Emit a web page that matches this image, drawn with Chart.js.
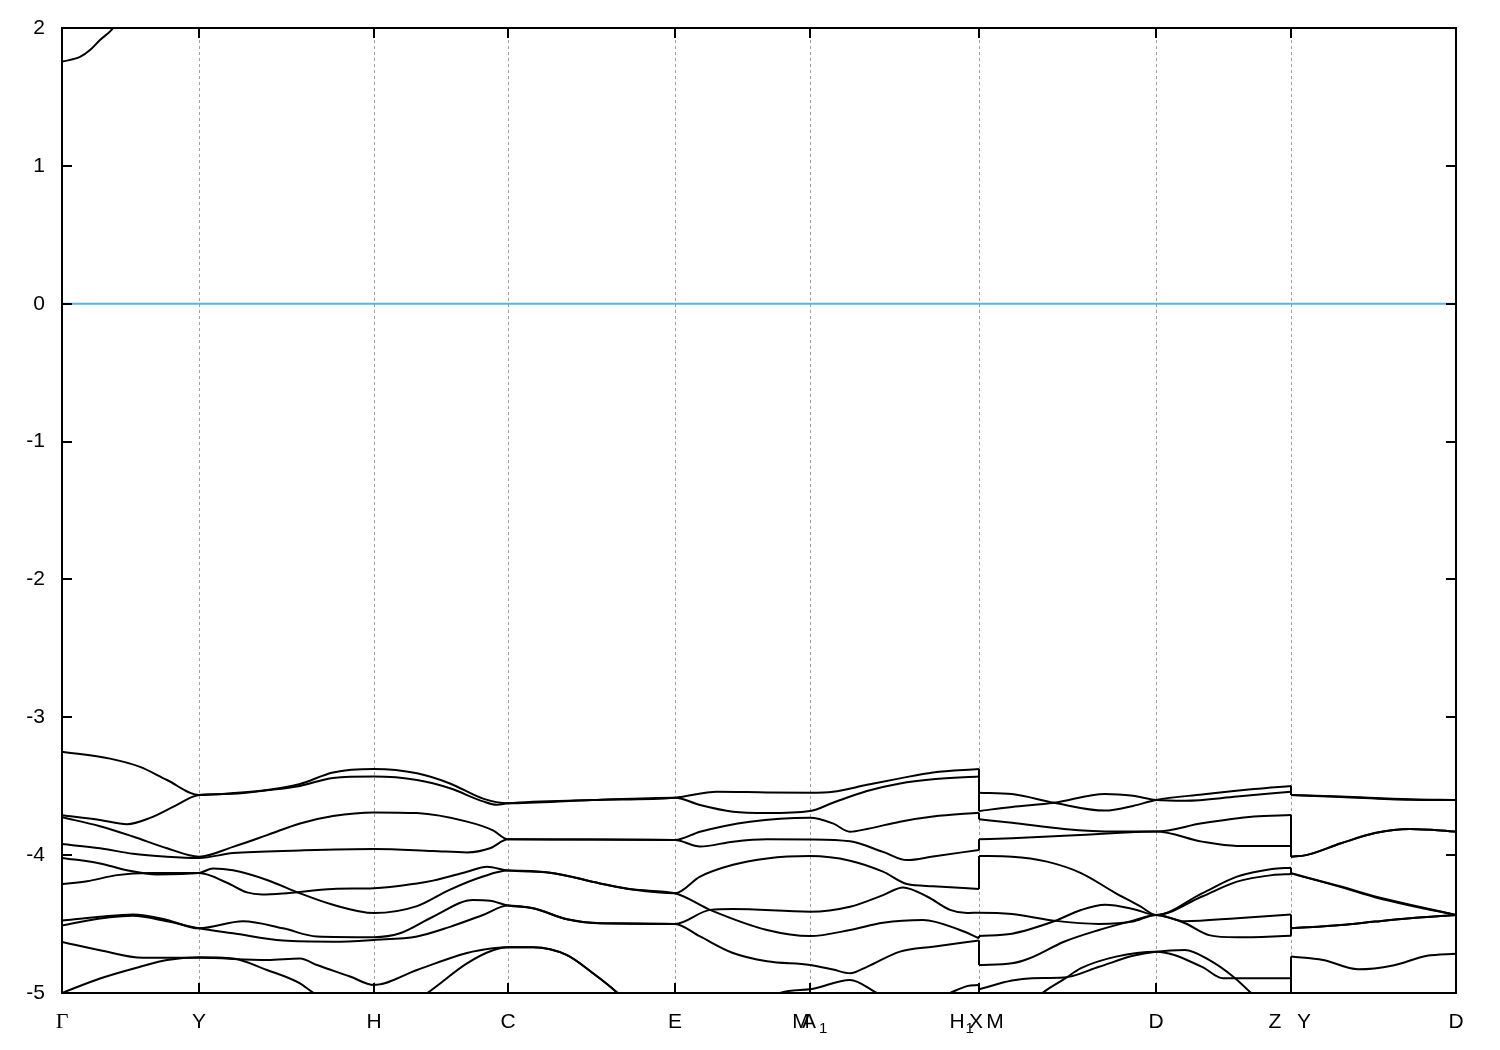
<!DOCTYPE html>
<html>
<head>
<meta charset="utf-8">
<script src="https://cdn.jsdelivr.net/npm/chart.js@4.4.0/dist/chart.umd.min.js"></script>
<style>
  html, body { margin: 0; padding: 0; background: #fff; }
  #wrap { width: 1500px; height: 1050px; }
</style>
</head>
<body>
<div id="wrap"><canvas id="bandChart" width="1500" height="1050"></canvas></div>
<script>
// --- DATA ---
// high-symmetry points along the k-path
const kTicks = [0, 1.37, 3.12, 4.46, 6.13, 7.48, 9.17, 10.94, 12.29, 13.94];
const kLabels = ['Γ', 'Y', 'H', 'C', 'E', 'M|A_1', 'H_1|X|M', 'D', 'Z|Y', 'D'];
const energyTicks = [-5, -4, -3, -2, -1, 0, 1, 2];
const fermiLevel = 0;

// bands as [k, E] pairs; a repeated k is a jump between path pieces
const condBand = [[0, 1.756], [0.18, 1.79], [0.28, 1.84], [0.38, 1.913], [0.50, 1.99], [0.60, 2.1], [0.75, 2.3]];

const band1 = [[0, -3.25], [0.48, -3.30], [0.78, -3.36], [1.05, -3.455], [1.37, -3.563],
  [1.71, -3.55], [2.05, -3.527], [2.38, -3.484], [2.71, -3.40], [3.12, -3.375], [3.55, -3.406], [3.88, -3.48], [4.21, -3.59], [4.46, -3.624],
  [5.30, -3.60], [6.13, -3.583],
  [6.55, -3.54], [7.05, -3.545], [7.48, -3.547],
  [7.71, -3.54], [8.05, -3.49], [8.38, -3.443], [8.71, -3.40], [9.17, -3.375],
  [9.17, -3.547],
  [9.50, -3.557], [9.92, -3.62], [10.43, -3.677], [10.71, -3.643], [10.94, -3.60],
  [11.40, -3.56], [11.92, -3.52], [12.29, -3.498],
  [12.29, -3.563],
  [12.79, -3.575], [13.48, -3.595], [13.94, -3.60]];

const band2 = [[0, -3.71], [0.38, -3.745], [0.65, -3.775], [0.88, -3.73], [1.11, -3.65], [1.37, -3.563],
  [1.71, -3.555], [2.05, -3.53], [2.38, -3.498], [2.71, -3.44], [3.12, -3.43], [3.55, -3.455], [3.88, -3.515], [4.21, -3.61], [4.35, -3.635], [4.46, -3.624],
  [5.30, -3.60], [6.13, -3.583],
  [6.38, -3.636], [6.71, -3.685], [7.05, -3.695], [7.48, -3.68],
  [7.71, -3.62], [8.05, -3.535], [8.38, -3.48], [8.71, -3.45], [9.17, -3.43],
  [9.17, -3.68],
  [9.50, -3.65], [9.92, -3.62], [10.43, -3.556], [10.71, -3.57], [10.94, -3.60],
  [11.23, -3.605], [11.75, -3.575], [12.29, -3.54],
  [12.29, -3.563],
  [12.79, -3.578], [13.48, -3.598], [13.94, -3.60]];

const band3 = [[0, -3.725], [0.38, -3.79], [0.71, -3.865], [1.05, -3.95], [1.37, -4.011],
  [1.71, -3.94], [2.05, -3.855], [2.38, -3.77], [2.71, -3.716], [3.12, -3.69], [3.55, -3.695], [4.05, -3.757], [4.31, -3.82], [4.46, -3.885],
  [5.30, -3.887], [6.13, -3.89],
  [6.38, -3.83], [6.88, -3.757], [7.48, -3.728],
  [7.71, -3.77], [7.88, -3.83], [8.05, -3.81], [8.38, -3.757], [8.71, -3.72], [9.17, -3.692],
  [9.17, -3.74],
  [9.50, -3.765], [10.02, -3.81], [10.54, -3.829], [10.94, -3.829],
  [11.40, -3.769], [11.92, -3.72], [12.29, -3.709],
  [12.29, -4.011],
  [12.44, -4.0], [12.79, -3.914], [13.13, -3.84], [13.48, -3.81], [13.94, -3.829]];

const band4 = [[0, -3.92], [0.38, -3.95], [0.71, -3.99], [1.05, -4.011], [1.37, -4.02],
  [1.71, -3.985], [2.38, -3.966], [3.12, -3.955], [3.71, -3.97], [4.05, -3.98], [4.28, -3.95], [4.46, -3.885],
  [5.30, -3.887], [6.13, -3.89],
  [6.38, -3.937], [6.71, -3.902], [7.05, -3.885], [7.48, -3.886],
  [7.88, -3.90], [8.21, -3.976], [8.45, -4.036], [8.71, -4.01], [9.17, -3.962],
  [9.17, -3.885],
  [9.50, -3.878], [10.02, -3.86], [10.54, -3.84], [10.94, -3.829],
  [11.40, -3.902], [11.75, -3.933], [12.29, -3.933],
  [12.29, -4.011],
  [12.44, -4.0], [12.79, -3.914], [13.13, -3.84], [13.48, -3.81], [13.94, -3.829]];

const band5 = [[0, -4.02], [0.38, -4.06], [0.65, -4.11], [0.95, -4.14], [1.37, -4.13],
  [1.51, -4.096], [1.71, -4.11], [2.05, -4.18], [2.38, -4.277], [2.71, -4.36], [3.12, -4.42], [3.55, -4.37], [3.88, -4.25], [4.21, -4.155], [4.46, -4.112],
  [4.88, -4.127], [5.38, -4.205], [5.71, -4.25], [6.13, -4.277],
  [6.38, -4.156], [6.71, -4.07], [7.05, -4.024], [7.48, -4.007],
  [7.88, -4.04], [8.21, -4.12], [8.45, -4.21], [8.71, -4.225], [9.17, -4.245],
  [9.17, -4.006],
  [9.50, -4.011], [9.85, -4.047], [10.19, -4.13], [10.54, -4.277], [10.78, -4.37], [10.94, -4.434],
  [11.40, -4.277], [11.75, -4.156], [12.10, -4.10], [12.29, -4.091],
  [12.29, -4.132],
  [12.79, -4.228], [13.13, -4.30], [13.48, -4.36], [13.94, -4.434]];

const band6 = [[0, -4.21], [0.25, -4.19], [0.55, -4.145], [0.88, -4.13], [1.37, -4.13],
  [1.65, -4.20], [1.85, -4.27], [2.00, -4.285], [2.21, -4.278], [2.71, -4.245], [3.12, -4.24], [3.55, -4.205], [3.71, -4.185], [4.05, -4.12], [4.25, -4.084], [4.46, -4.112],
  [4.88, -4.127], [5.38, -4.205], [5.71, -4.25], [6.13, -4.277],
  [6.48, -4.397], [7.05, -4.543], [7.48, -4.587],
  [7.88, -4.543], [8.21, -4.49], [8.61, -4.47], [8.98, -4.543], [9.17, -4.603],
  [9.17, -4.586],
  [9.50, -4.57], [9.92, -4.48], [10.19, -4.398], [10.43, -4.36], [10.71, -4.39], [10.94, -4.434],
  [11.40, -4.30], [11.75, -4.192], [12.10, -4.145], [12.29, -4.137],
  [12.29, -4.132],
  [12.79, -4.232], [13.13, -4.305], [13.48, -4.365], [13.94, -4.434]];

const band7 = [[0, -4.475], [0.38, -4.447], [0.71, -4.43], [1.05, -4.47], [1.37, -4.531],
  [1.81, -4.48], [2.21, -4.531], [2.55, -4.59], [3.12, -4.595], [3.38, -4.567], [3.71, -4.447], [4.11, -4.325], [4.28, -4.33], [4.46, -4.366],
  [4.71, -4.385], [5.05, -4.465], [5.38, -4.494], [6.13, -4.499],
  [6.48, -4.397], [6.71, -4.39], [7.48, -4.41],
  [7.88, -4.374], [8.21, -4.29], [8.41, -4.234], [8.65, -4.30], [8.88, -4.397], [9.05, -4.42], [9.17, -4.417],
  [9.50, -4.427], [9.92, -4.475], [10.37, -4.499], [10.71, -4.482], [10.94, -4.434],
  [11.23, -4.48], [11.75, -4.457], [12.29, -4.43],
  [12.29, -4.531],
  [12.79, -4.507], [13.13, -4.482], [13.48, -4.458], [13.94, -4.434]];

const band8 = [[0, -4.51], [0.38, -4.46], [0.71, -4.44], [1.05, -4.48], [1.37, -4.531],
  [1.71, -4.567], [2.21, -4.62], [2.71, -4.628], [3.12, -4.615], [3.55, -4.59], [3.88, -4.52], [4.21, -4.434], [4.46, -4.366],
  [4.71, -4.385], [5.05, -4.465], [5.38, -4.494], [6.13, -4.499],
  [6.38, -4.59], [6.71, -4.71], [7.05, -4.77], [7.48, -4.797],
  [7.71, -4.83], [7.88, -4.857], [8.05, -4.81], [8.38, -4.70], [8.71, -4.664], [9.17, -4.62],
  [9.17, -4.797],
  [9.50, -4.785], [9.67, -4.75], [10.02, -4.628], [10.37, -4.543], [10.71, -4.475], [10.94, -4.434],
  [11.23, -4.494], [11.47, -4.58], [11.75, -4.596], [12.29, -4.585],
  [12.29, -4.531],
  [12.79, -4.507], [13.13, -4.482], [13.48, -4.458], [13.94, -4.434]];

const band9 = [[0, -4.63], [0.38, -4.69], [0.81, -4.745], [1.37, -4.745],
  [2.05, -4.76], [2.38, -4.75], [2.55, -4.797], [2.88, -4.88], [3.12, -4.942], [3.55, -4.833], [4.05, -4.71], [4.31, -4.676], [4.46, -4.668],
  [4.71, -4.668], [5.05, -4.725], [5.31, -4.857], [5.55, -4.997], [5.90, -5.25], [6.13, -5.35], [6.60, -5.3], [7.00, -5.12], [7.18, -5.0],
  [7.48, -4.973], [7.88, -4.906], [8.15, -5.0], [8.50, -5.12], [8.88, -5.0], [9.05, -4.95], [9.17, -4.942],
  [9.17, -4.973],
  [9.50, -4.91], [9.70, -4.893], [10.02, -4.888], [10.37, -4.81], [10.71, -4.73], [10.94, -4.70],
  [11.23, -4.688], [11.47, -4.76], [11.71, -4.88], [11.89, -5.0], [12.29, -5.3],
  [12.29, -4.736],
  [12.61, -4.76], [12.96, -4.828], [13.31, -4.80], [13.65, -4.73], [13.94, -4.715]];

const band10 = [[0, -5.0], [0.38, -4.895], [0.78, -4.81], [1.05, -4.76], [1.37, -4.74],
  [1.71, -4.75], [2.05, -4.833], [2.38, -4.93], [2.51, -4.997], [3.12, -5.25], [3.66, -4.997], [4.05, -4.785], [4.31, -4.69], [4.46, -4.668],
  [4.71, -4.668], [5.05, -4.725], [5.31, -4.857], [5.55, -4.997], [6.13, -5.45], [7.50, -5.6], [9.17, -5.5],
  [9.17, -5.4],
  [9.81, -4.997], [10.02, -4.9], [10.19, -4.82], [10.54, -4.736], [10.94, -4.70],
  [11.40, -4.81], [11.61, -4.893], [12.29, -4.893],
  [12.29, -5.3],
  [13.94, -5.3]];

const bands = [condBand, band1, band2, band3, band4, band5, band6, band7, band8, band9, band10];

// --- BUILD DATASETS ---
const lineStyle = {
  showLine: true, fill: false, borderColor: '#000', borderWidth: 2,
  pointRadius: 0, pointHoverRadius: 0
};

function makePiece(pts, smooth) {
  return Object.assign({}, lineStyle, {
    data: pts.map(p => ({ x: p[0], y: p[1] })),
    cubicInterpolationMode: smooth ? 'monotone' : 'default',
    tension: 0
  });
}

const datasets = [];
bands.forEach(band => {
  let piece = [band[0]];
  for (let i = 1; i < band.length; i++) {
    if (band[i][0] === band[i - 1][0]) {
      datasets.push(makePiece(piece, true));
      datasets.push(makePiece([band[i - 1], band[i]], false)); // vertical jump
      piece = [band[i]];
    } else {
      piece.push(band[i]);
    }
  }
  datasets.push(makePiece(piece, true));
});

// Fermi level
datasets.push({
  data: [{ x: kTicks[0], y: fermiLevel }, { x: kTicks[kTicks.length - 1], y: fermiLevel }],
  showLine: true, borderColor: '#56b4e9', borderWidth: 2, pointRadius: 0, tension: 0
});

// label layout for the crowded points: [dx of main text, dx of subscript]
const labelNudge = {
  'M|A_1': [[-9, 0], [-1, 2]],
  'H_1|X|M': [[-22, 0], [-3, 0], [16, 0]],
  'Z|Y': [[-16, 0], [13, 0]]
};

const kpathPlugin = {
  id: 'kpath',
  beforeDatasetsDraw(chart) {
    const { ctx, chartArea: a, scales: { x } } = chart;
    ctx.save();
    ctx.strokeStyle = '#a0a0a0';
    ctx.lineWidth = 1;
    ctx.setLineDash([3, 3]);
    kTicks.slice(1, -1).forEach(k => {
      const px = Math.round(x.getPixelForValue(k)) + 0.5;
      ctx.beginPath();
      ctx.moveTo(px, a.top);
      ctx.lineTo(px, a.bottom);
      ctx.stroke();
    });
    ctx.restore();
  },
  afterDraw(chart) {
    const { ctx, chartArea: a, scales: { x, y } } = chart;
    ctx.save();
    ctx.strokeStyle = '#000';
    ctx.lineWidth = 2;
    ctx.strokeRect(a.left, a.top, a.right - a.left, a.bottom - a.top);

    // inward tick marks, mirrored on both sides
    ctx.beginPath();
    energyTicks.forEach(v => {
      const py = Math.round(y.getPixelForValue(v));
      ctx.moveTo(a.left, py); ctx.lineTo(a.left + 10, py);
      ctx.moveTo(a.right, py); ctx.lineTo(a.right - 10, py);
    });
    kTicks.forEach(k => {
      const px = Math.round(x.getPixelForValue(k));
      ctx.moveTo(px, a.bottom); ctx.lineTo(px, a.bottom - 10);
      ctx.moveTo(px, a.top); ctx.lineTo(px, a.top + 10);
    });
    ctx.stroke();

    // k-point labels
    ctx.fillStyle = '#000';
    ctx.textBaseline = 'alphabetic';
    const base = a.bottom + 35;
    kLabels.forEach((label, i) => {
      const px = x.getPixelForValue(kTicks[i]);
      const parts = label.split('|');
      const nudge = labelNudge[label] || [[0, 0]];
      parts.forEach((part, j) => {
        const [main, sub] = part.split('_');
        const [dx, subDx] = nudge[j] || [0, 0];
        ctx.font = main === 'Γ' ? '22px "Liberation Serif", serif' : '21px "Liberation Sans", Arial, sans-serif';
        ctx.textAlign = 'center';
        ctx.fillText(main, px + dx, base);
        if (sub) {
          const w = ctx.measureText(main).width;
          ctx.font = '15px "Liberation Sans", Arial, sans-serif';
          ctx.textAlign = 'left';
          ctx.fillText(sub, px + dx + w / 2 + 1 + subDx, base + 5);
        }
      });
    });
    ctx.restore();
  }
};

new Chart(document.getElementById('bandChart').getContext('2d'), {
  type: 'scatter',
  data: { datasets },
  options: {
    responsive: false,
    animation: false,
    events: [],
    layout: { padding: { top: 28, right: 44, bottom: 57, left: 0 } },
    elements: { line: { capBezierPoints: false } },
    plugins: { legend: { display: false }, tooltip: { enabled: false } },
    scales: {
      x: { type: 'linear', min: kTicks[0], max: kTicks[kTicks.length - 1], display: false },
      y: {
        type: 'linear', min: energyTicks[0], max: energyTicks[energyTicks.length - 1],
        afterBuildTicks: s => { s.ticks = energyTicks.map(v => ({ value: v })); },
        afterFit: s => { s.width = 62; },
        ticks: {
          color: '#000', padding: 9,
          font: { family: '"Liberation Sans", Arial, sans-serif', size: 21 }
        },
        grid: { display: false },
        border: { display: false }
      }
    }
  },
  plugins: [kpathPlugin]
});
</script>
</body>
</html>
